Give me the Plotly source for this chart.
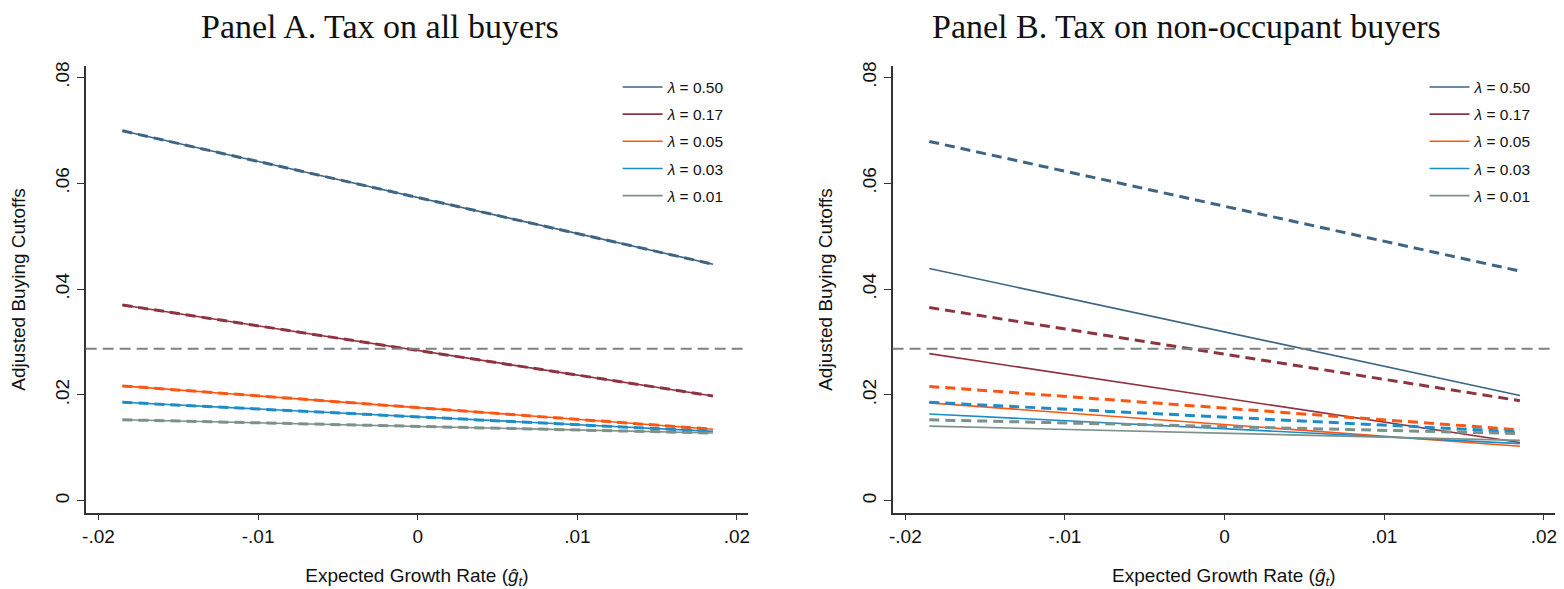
import plotly.graph_objects as go

# ---------------- data ----------------
x_ends = [-0.0185, 0.0185]
lambdas = ["0.50", "0.17", "0.05", "0.03", "0.01"]
colors = ["#3D6585", "#8E3340", "#FF5512", "#1C8DC8", "#7B918A"]

# Panel A: tax on all buyers (solid = baseline, dashed = with tax; they coincide)
a_solid = {
    "0.50": [0.0699, 0.0447],
    "0.17": [0.0370, 0.0198],
    "0.05": [0.0217, 0.0135],
    "0.03": [0.0186, 0.0131],
    "0.01": [0.0153, 0.0128],
}
a_dashed = {
    "0.50": [0.0699, 0.0447],
    "0.17": [0.0370, 0.0198],
    "0.05": [0.0217, 0.0135],
    "0.03": [0.0186, 0.0131],
    "0.01": [0.0153, 0.0128],
}
# Panel B: tax on non-occupant buyers
b_solid = {
    "0.50": [0.0439, 0.0199],
    "0.17": [0.0278, 0.0110],
    "0.05": [0.0185, 0.0103],
    "0.03": [0.0164, 0.0108],
    "0.01": [0.0141, 0.0114],
}
b_dashed = {
    "0.50": [0.0679, 0.0434],
    "0.17": [0.0365, 0.0189],
    "0.05": [0.0216, 0.0134],
    "0.03": [0.0186, 0.0130],
    "0.01": [0.0153, 0.0127],
}
hline_value = 0.0287

titles = ["Panel A. Tax on all buyers", "Panel B. Tax on non-occupant buyers"]
x_ticks = [-0.02, -0.01, 0, 0.01, 0.02]
x_ticklabels = ["-.02", "-.01", "0", ".01", ".02"]
y_ticks = [0, 0.02, 0.04, 0.06, 0.08]
y_ticklabels = ["0", ".02", ".04", ".06", ".08"]
x_title = "Expected Growth Rate (<i>ĝ</i><sub><i>t</i></sub>)"
y_title = "Adjusted Buying Cutoffs"

# ---------------- figure ----------------
W, H = 1564, 589
fig = go.Figure()

panels = [
    (a_solid, a_dashed, "x", "y", "legend"),
    (b_solid, b_dashed, "x2", "y2", "legend2"),
]
for solid, dashed, xa, ya, lg in panels:
    for lam, col in zip(lambdas, colors):
        fig.add_trace(go.Scatter(
            x=x_ends, y=solid[lam], mode="lines", xaxis=xa, yaxis=ya,
            line=dict(color=col, width=1.6), name=f"<i>λ</i> = {lam}",
            legend=lg, legendgroup=lg + lam, showlegend=True, hoverinfo="skip"))
    for lam, col in zip(lambdas, colors):
        fig.add_trace(go.Scatter(
            x=x_ends, y=dashed[lam], mode="lines", xaxis=xa, yaxis=ya,
            line=dict(color=col, width=3, dash="10px,6px"),
            showlegend=False, hoverinfo="skip"))

axis_font = dict(family="Liberation Sans, Arial, sans-serif", size=19, color="#111")
xr = [-0.0208, 0.0207]
yr = [-0.00225, 0.08206]
ydom = [(H - 512) / H, (H - 62) / H]
xdomA = [82 / W, 747 / W]
xdomB = [892 / W, 1557 / W]

def xaxis(dom, anchor):
    return dict(domain=dom, anchor=anchor, range=xr, tickvals=x_ticks, ticktext=x_ticklabels,
                showline=True, linecolor="#333", linewidth=1.5, ticks="outside", ticklen=6,
                tickwidth=1.3, tickcolor="#333", showgrid=False, zeroline=False,
                tickfont=axis_font, title=dict(text=x_title, font=axis_font, standoff=24))

def yaxis(anchor):
    return dict(domain=ydom, anchor=anchor, range=yr, tickvals=y_ticks, ticktext=y_ticklabels,
                showline=True, linecolor="#333", linewidth=1.5, ticks="outside", ticklen=7,
                tickwidth=1.3, tickcolor="#333", showgrid=False, zeroline=False, tickangle=-90,
                tickfont=axis_font, title=dict(text=y_title, font=axis_font, standoff=22))

legend_common = dict(bgcolor="rgba(0,0,0,0)", borderwidth=0, tracegroupgap=4,
                     font=dict(family="Liberation Sans, Arial, sans-serif", size=15.5, color="#111"),
                     xanchor="left", yanchor="top", itemwidth=40)

fig.update_layout(
    width=W, height=H, margin=dict(l=0, r=0, t=0, b=0),
    paper_bgcolor="white", plot_bgcolor="white",
    xaxis=xaxis(xdomA, "y"), yaxis=yaxis("x"),
    xaxis2=xaxis(xdomB, "y2"), yaxis2=yaxis("x2"),
    legend=dict(x=616 / W, y=1 - 66 / H, **legend_common),
    legend2=dict(x=1426 / W, y=1 - 66 / H, **legend_common),
    showlegend=True,
)

for xa, ya in [("x", "y"), ("x2", "y2")]:
    fig.add_shape(type="line", xref=f"{xa} domain", yref=ya, x0=0, x1=1,
                  y0=hline_value, y1=hline_value,
                  line=dict(color="#808080", width=2, dash="11px,6px"))

title_font = dict(family="Liberation Serif, Times New Roman, serif", size=34, color="#111")
for txt, cx in zip(titles, [377, 1187]):
    fig.add_annotation(text=txt, x=cx / W, y=1 - 22 / H, xref="paper", yref="paper",
                       showarrow=False, font=title_font, xanchor="center", yanchor="middle")

fig.write_html("out.html")
